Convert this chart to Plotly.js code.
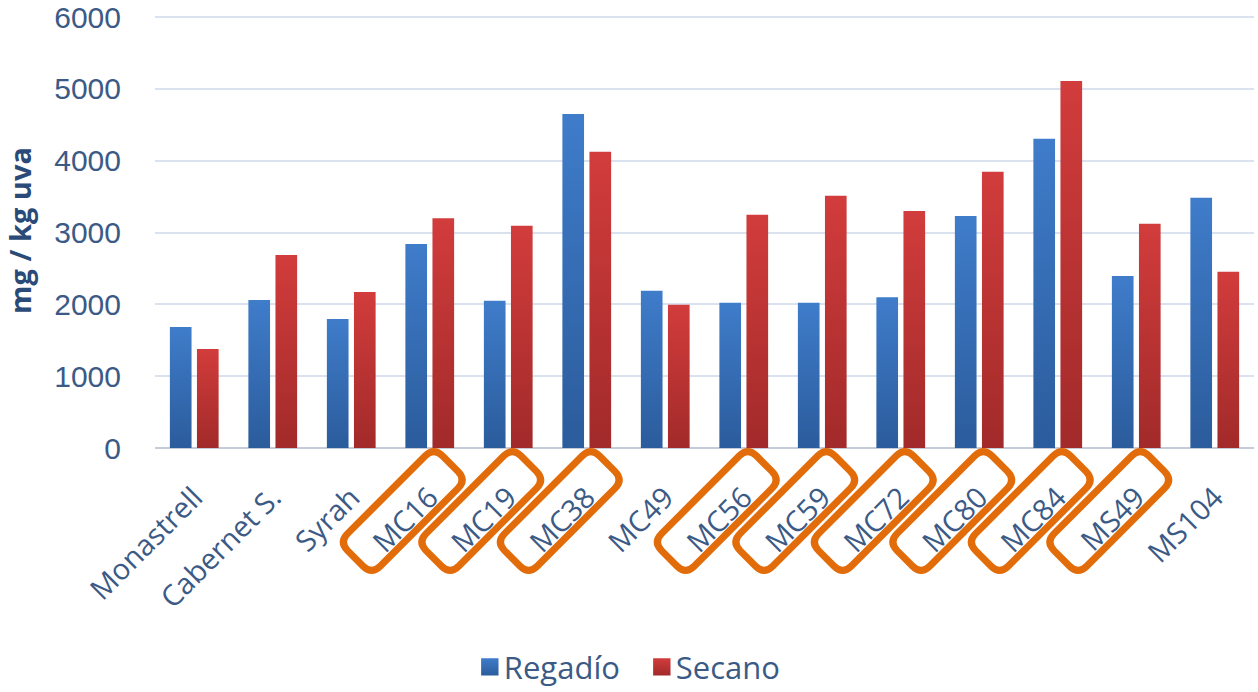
<!DOCTYPE html>
<html>
<head>
<meta charset="utf-8">
<script src="https://cdn.plot.ly/plotly-3.0.1.min.js"></script>
<style>
  html, body { margin: 0; padding: 0; background: #ffffff; }
  #chart { width: 1258px; height: 692px; }
</style>
</head>
<body>
<div id="chart"></div>
<script>
// Varieties and crossings
const categories = ['Monastrell', 'Cabernet S.', 'Syrah', 'MC16', 'MC19', 'MC38', 'MC49',
                    'MC56', 'MC59', 'MC72', 'MC80', 'MC84', 'MS49', 'MS104'];
// mg / kg uva, irrigated vs. rain-fed
const regadio = [1685, 2060, 1796, 2840, 2050, 4650, 2190, 2023, 2023, 2098, 3230, 4306, 2395, 3485];
const secano  = [1378, 2687, 2172, 3198, 3095, 4125, 1995, 3248, 3512, 3300, 3847, 5109, 3123, 2455];
// Labels highlighted with an orange frame
const highlighted = ['MC16', 'MC19', 'MC38', 'MC56', 'MC59', 'MC72', 'MC80', 'MC84', 'MS49'];
const yTicks = [0, 1000, 2000, 3000, 4000, 5000, 6000];

const textColor = '#3b5a86';
const fontFamily = 'Open Sans, Noto Sans, sans-serif';

// Rounded rectangle rotated 45°, in pixel offsets (y positive upward)
function framePath(cx, cy, halfLen, halfWid, r) {
  const c = Math.SQRT1_2;
  // local frame: u along text (up-right), v across it
  const toPx = (lu, lv) => {
    const sx = cx + lu * c + lv * c;       // screen x
    const sy = cy - lu * c + lv * c;       // screen y (down)
    return [sx, -sy];
  };
  const a = halfLen, b = halfWid;
  const seq = [
    ['M', [-a + r, -b]], ['L', [a - r, -b]], ['Q', [a, -b], [a, -b + r]],
    ['L', [a, b - r]], ['Q', [a, b], [a - r, b]],
    ['L', [-a + r, b]], ['Q', [-a, b], [-a, b - r]],
    ['L', [-a, -b + r]], ['Q', [-a, -b], [-a + r, -b]]
  ];
  let d = '';
  seq.forEach(s => {
    d += s[0];
    for (let i = 1; i < s.length; i++) {
      const p = toPx(s[i][0], s[i][1]);
      d += p[0].toFixed(1) + ',' + p[1].toFixed(1) + ' ';
    }
  });
  return d + 'Z';
}

const shapes = highlighted.map(name => ({
  type: 'path',
  xref: 'x', yref: 'paper',
  xsizemode: 'pixel', ysizemode: 'pixel',
  xanchor: categories.indexOf(name), yanchor: 0,
  path: framePath(-27, 63, 67, 23, 12),
  line: { color: '#e36c0a', width: 7 },
  fillcolor: 'rgba(0,0,0,0)',
  layer: 'above'
}));

const traces = [
  {
    type: 'bar', name: 'Regadío', x: categories, y: regadio,
    marker: { color: '#3670bb', line: { width: 0 } },
    hoverinfo: 'x+y'
  },
  {
    type: 'bar', name: 'Secano', x: categories, y: secano,
    marker: { color: '#c23535', line: { width: 0 } },
    hoverinfo: 'x+y'
  }
];

const layout = {
  width: 1258, height: 692,
  margin: { l: 155, r: 4, t: 13, b: 244, autoexpand: false },
  paper_bgcolor: '#ffffff', plot_bgcolor: '#ffffff',
  font: { family: fontFamily, color: textColor, size: 30 },
  barmode: 'group', bargap: 0.31, bargroupgap: 0.2,
  showlegend: true,
  legend: {
    orientation: 'h', x: 0.281, xanchor: 'left', y: -0.566, yanchor: 'bottom',
    font: { size: 31, color: textColor }, traceorder: 'normal',
    entrywidth: 127, entrywidthmode: 'pixels'
  },
  xaxis: {
    type: 'category', tickangle: -45, automargin: false,
    tickfont: { size: 29, color: textColor },
    showgrid: false, zeroline: false, showline: false,
    ticks: 'outside', ticklen: 20, tickcolor: 'rgba(0,0,0,0)'
  },
  yaxis: {
    range: [0, 6056], tickvals: yTicks, ticktext: yTicks.map(String), automargin: false,
    ticklabeloverflow: 'allow',
    tickfont: { size: 30, color: textColor, family: 'Liberation Sans, Arial, sans-serif' },
    showgrid: true, gridcolor: '#d9e2ee', gridwidth: 2,
    zeroline: true, zerolinecolor: '#c3ccd8', zerolinewidth: 2,
    showline: false, ticks: 'outside', ticklen: 27, tickcolor: 'rgba(0,0,0,0)',
    title: { text: 'mg / kg uva', font: { size: 29, color: '#2a4a78', weight: 'bold' }, standoff: 21 }
  },
  shapes: shapes
};

Plotly.newPlot('chart', traces, layout, { staticPlot: true }).then(gd => {
  // vertical shading on the bars: lighter top, darker base
  const svg = gd.querySelector('svg.main-svg');
  const ns = 'http://www.w3.org/2000/svg';
  const defs = document.createElementNS(ns, 'defs');
  const grads = [
    ['gradBlue', '#3f7cca', '#2b5c9c'],
    ['gradRed', '#d23c3c', '#a22a2a']
  ];
  grads.forEach(g => {
    const lg = document.createElementNS(ns, 'linearGradient');
    lg.setAttribute('id', g[0]);
    lg.setAttribute('x1', '0'); lg.setAttribute('y1', '0');
    lg.setAttribute('x2', '0'); lg.setAttribute('y2', '1');
    [['0', g[1]], ['1', g[2]]].forEach(s => {
      const st = document.createElementNS(ns, 'stop');
      st.setAttribute('offset', s[0]); st.setAttribute('stop-color', s[1]);
      lg.appendChild(st);
    });
    defs.appendChild(lg);
  });
  svg.insertBefore(defs, svg.firstChild);
  gd.querySelectorAll('.barlayer .trace').forEach((t, i) => {
    t.querySelectorAll('path').forEach(p => {
      p.style.fill = 'url(#' + grads[i][0] + ')';
    });
  });
  // larger legend swatches, closer to their labels
  gd.querySelectorAll('.legend .traces').forEach((t, i) => {
    t.querySelectorAll('.legendpoints path').forEach(p => {
      p.style.fill = 'url(#' + grads[i][0] + ')';
      p.setAttribute('transform', 'translate(26,0) scale(1.45)');
    });
  });
});
</script>
</body>
</html>
